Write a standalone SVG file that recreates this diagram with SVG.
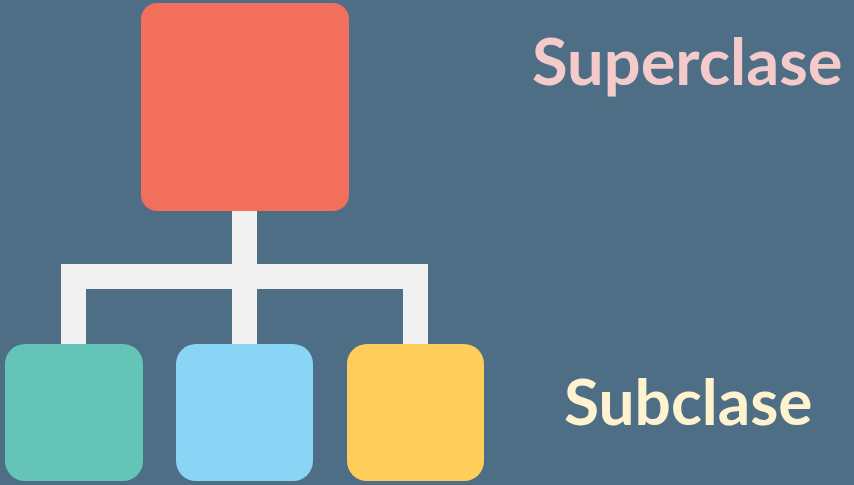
<svg xmlns="http://www.w3.org/2000/svg" width="854" height="485" viewBox="0 0 854 485">
<style>
.lbl{font-family:Lato,"Liberation Sans",sans-serif;font-weight:bold;font-size:64px}
.conn{fill:#f1f1f1}
</style>
<rect width="854" height="485" fill="#4e6e86"/>
<g id="connectors">
<rect class="conn" x="232" y="205" width="25" height="145"/>
<rect class="conn" x="61" y="264" width="367" height="25"/>
<rect class="conn" x="61" y="264" width="25" height="86"/>
<rect class="conn" x="403" y="264" width="25" height="86"/>
</g>
<g id="superclass"><rect x="141" y="3" width="208" height="208" rx="16" fill="#f26f5c"/></g>
<g id="sub1"><rect x="5" y="344" width="138" height="137" rx="20" fill="#64c4b8"/></g>
<g id="sub2"><rect x="176" y="344" width="137" height="137" rx="20" fill="#8ad5f5"/></g>
<g id="sub3"><rect x="347" y="344" width="137" height="137" rx="20" fill="#ffcd5a"/></g>
<g id="label-super"><text class="lbl" x="532" y="85" fill="#f4caca" style="font-size:65px">Superclase</text></g>
<g id="label-sub"><text class="lbl" x="564" y="425" fill="#fff3cf">Subclase</text></g>
</svg>
